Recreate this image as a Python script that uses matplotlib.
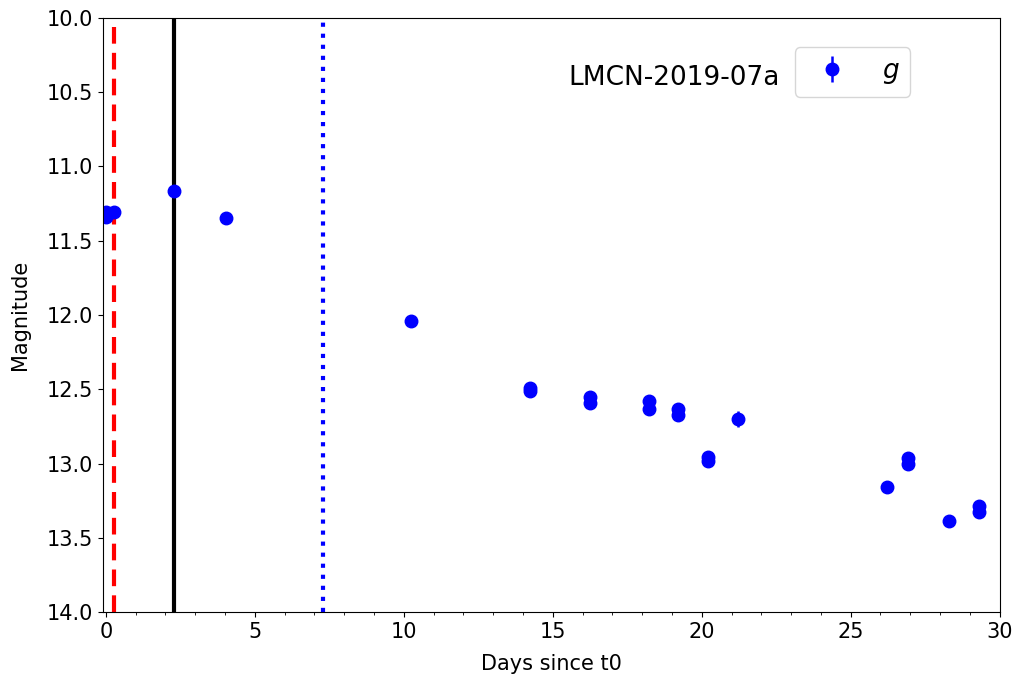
import matplotlib
matplotlib.use('Agg')
import matplotlib.pyplot as plt
from matplotlib.ticker import MultipleLocator
import numpy as np

# datos de la curva de luz, banda g
dias = [0.0, 0.0, 0.27, 2.28, 4.02, 10.24, 14.23, 14.23, 16.24, 16.24,
        18.23, 18.23, 19.22, 19.22, 20.22, 20.22, 21.23, 26.22, 26.93, 26.93,
        28.30, 29.29, 29.29]
mag = [11.31, 11.34, 11.31, 11.165, 11.35, 12.04, 12.49, 12.51, 12.55, 12.59,
       12.58, 12.635, 12.635, 12.67, 12.955, 12.98, 12.70, 13.155, 12.96, 13.0,
       13.385, 13.285, 13.325]
err = [0.01, 0.01, 0.01, 0.01, 0.01, 0.01, 0.01, 0.01, 0.01, 0.01,
       0.01, 0.01, 0.01, 0.01, 0.01, 0.01, 0.057, 0.01, 0.01, 0.01,
       0.01, 0.01, 0.01]

# lineas verticales
t_rojo = 0.27
t_negro = 2.28
t_azul = 7.3

fig = plt.figure(figsize=(10.18, 6.81), dpi=100)
ax = fig.add_axes([0.101, 0.101, 0.881, 0.873])

ax.axvline(t_rojo, color='red', ls='--', lw=3, dashes=(4, 2.2))
ax.axvline(t_negro, color='black', ls='-', lw=3)
ax.axvline(t_azul, color='blue', ls=':', lw=3)

ax.errorbar(dias, mag, yerr=err, fmt='o', color='blue', ms=9, lw=1.8,
            label='$g$')

ax.set_xlim(-0.1, 30)
ax.set_ylim(14, 10)
ax.xaxis.set_minor_locator(MultipleLocator(1))
ax.tick_params(labelsize=15)
ax.set_xlabel('Days since t0', fontsize=15, labelpad=9)
ax.set_ylabel('Magnitude', fontsize=15, labelpad=12)

ax.legend(loc='upper right', bbox_to_anchor=(0.9, 0.95), borderaxespad=0,
          fontsize=19, handletextpad=0.9)
ax.text(0.755, 0.898, 'LMCN-2019-07a', transform=ax.transAxes, fontsize=19,
        ha='right', va='center')

fig.savefig('out.png', dpi=100)
